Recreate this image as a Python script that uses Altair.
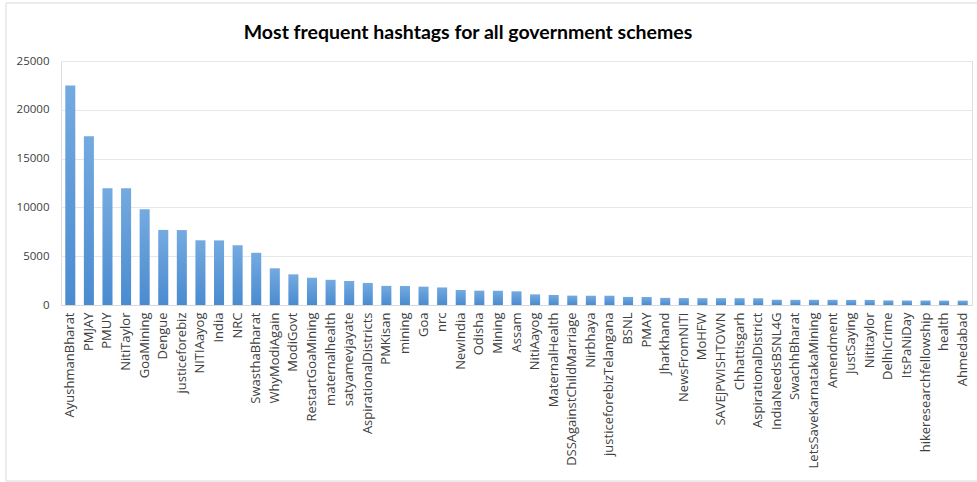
import altair as alt
import pandas as pd

title_text = "Most frequent hashtags for all government schemes"

hashtags = [
    "AyushmanBharat", "PMJAY", "PMUY", "NitiTaylor", "GoaMining", "Dengue",
    "justiceforebiz", "NITIAayog", "India", "NRC", "SwasthaBharat", "WhyModiAgain",
    "ModiGovt", "RestartGoaMining", "maternalhealth", "satyamevjayate",
    "AspirationalDistricts", "PMKisan", "mining", "Goa", "nrc", "NewIndia", "Odisha",
    "Mining", "Assam", "NitiAayog", "MaternalHealth", "DSSAgainstChildMarriage",
    "Nirbhaya", "justiceforebizTelangana", "BSNL", "PMAY", "Jharkhand", "NewsFromNITI",
    "MoHFW", "SAVEJPWISHTOWN", "Chhattisgarh", "AspirationalDistrict",
    "IndiaNeedsBSNL4G", "SwachhBharat", "LetsSaveKarnatakaMining", "Amendment",
    "JustSaying", "Nititaylor", "DelhiCrime", "ItsPaNiDay", "hikeresearchfellowship",
    "health", "Ahmedabad",
]
counts = [
    22500, 17300, 11950, 11950, 9800, 7690,
    7680, 6630, 6620, 6120, 5350, 3760,
    3140, 2800, 2580, 2460,
    2260, 1960, 1950, 1880, 1800, 1540, 1470,
    1460, 1400, 1090, 1030, 960,
    950, 950, 830, 820, 730, 710,
    700, 700, 700, 690,
    540, 530, 530, 530,
    520, 520, 470, 460, 460,
    450, 450,
]
y_ticks = [0, 5000, 10000, 15000, 20000, 25000]

df = pd.DataFrame({"hashtag": hashtags, "count": counts})

gradient = alt.Gradient(
    gradient="linear",
    stops=[
        alt.GradientStop(color="#74aae0", offset=0),
        alt.GradientStop(color="#4a8bd0", offset=1),
    ],
    x1=0, x2=0, y1=0, y2=1,
)

bars = alt.Chart(df).mark_bar(color=gradient).encode(
    x=alt.X(
        "hashtag:N",
        sort=None,
        title=None,
        scale=alt.Scale(paddingInner=0.46, paddingOuter=0.23),
        axis=alt.Axis(
            labelAngle=270,
            labelFont="Open Sans",
            labelFontSize=13,
            labelColor="#404040",
            labelPadding=7,
            labelOverlap=False,
            labelLimit=0,
            ticks=False,
            domainColor="#d9d9d9",
            grid=False,
        ),
    ),
    y=alt.Y(
        "count:Q",
        title=None,
        scale=alt.Scale(domain=[0, 25000], nice=False),
        axis=alt.Axis(
            values=y_ticks,
            format="d",
            labelFont="Open Sans",
            labelFontSize=11.5,
            labelColor="#404040",
            labelPadding=12,
            domain=False,
            ticks=False,
            gridColor="#e4e8ee",
        ),
    ),
)

frame = alt.Chart(pd.DataFrame({"f": [0]})).mark_rect(
    fillOpacity=0, stroke="#d9d9d9", strokeWidth=1
).encode(
    x=alt.value(-55), x2=alt.value(935), y=alt.value(-58), y2=alt.value(420)
)

title = alt.Chart(pd.DataFrame({"t": [title_text]})).mark_text(
    font="Lato", fontSize=19.5, fontWeight="bold", color="#000000",
    align="center", baseline="alphabetic",
).encode(text="t:N", x=alt.value(407), y=alt.value(-22))

chart = alt.layer(frame, title, bars).properties(
    width=911,
    height=244,
    autosize=alt.AutoSizeParams(type="none"),
    padding={"left": 61, "top": 61, "right": 5, "bottom": 177},
).configure_view(stroke=None).configure(background="white")

chart.save("out.html", embed_options={"renderer": "svg", "actions": False})
